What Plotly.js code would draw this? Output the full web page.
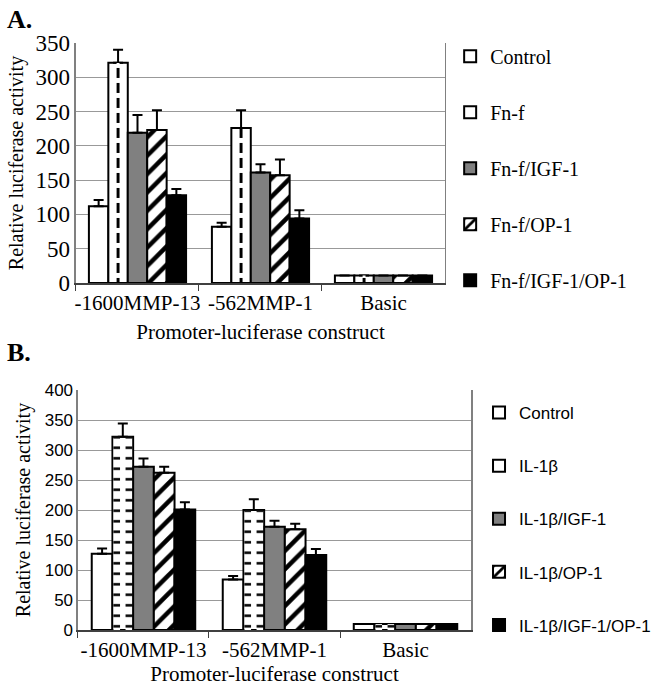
<!DOCTYPE html>
<html>
<head>
<meta charset="utf-8">
<script src="https://cdn.plot.ly/plotly-3.0.1.min.js"></script>
<style>
  body { margin: 0; background: #fff; }
  #plot { width: 662px; height: 693px; }
</style>
</head>
<body>
<div id="plot"></div>
<script>
// Promoter-luciferase constructs, two stimulus panels (A: Fn-f, B: IL-1beta)

let constructs = ["-1600MMP-13", "-562MMP-1", "Basic"];

// Panel A values and upper error bars
let namesA = ["Control", "Fn-f", "Fn-f/IGF-1", "Fn-f/OP-1", "Fn-f/IGF-1/OP-1"];
let controlA = [112, 82, 11];
let fnf = [321, 226, 11];
let fnfIgf = [219, 161, 11];
let fnfOp = [223, 157, 11];
let fnfIgfOp = [128, 94, 11];
let errControlA = [9, 6, 0];
let errFnf = [19, 26, 0];
let errFnfIgf = [26, 12, 0];
let errFnfOp = [29, 23, 0];
let errFnfIgfOp = [9, 12, 0];

// Panel B values and upper error bars
let namesB = ["Control", "IL-1β", "IL-1β/IGF-1", "IL-1β/OP-1", "IL-1β/IGF-1/OP-1"];
let controlB = [127, 84, 10];
let il1b = [322, 200, 10];
let il1bIgf = [272, 172, 10];
let il1bOp = [262, 168, 10];
let il1bIgfOp = [201, 125, 10];
let errControlB = [9, 6, 0];
let errIl1b = [22, 18, 0];
let errIl1bIgf = [14, 10, 0];
let errIl1bOp = [10, 9, 0];
let errIl1bIgfOp = [12, 10, 0];

let hatch = {shape: "/", size: 13, solidity: 0.35, fgcolor: "black", bgcolor: "white"};
let fills = ["white", "white", "#808080", "white", "black"];

function makeTrace(name, vals, errs, i, panel) {
  let marker = {color: fills[i], line: {color: "black", width: 2}};
  if (i == 3) marker.pattern = hatch;
  return {
    x: constructs,
    y: vals,
    name: name,
    type: "bar",
    marker: marker,
    error_y: {type: "data", symmetric: false, array: errs, arrayminus: errs.map(() => 0),
              color: "black", thickness: 2, width: 5},
    xaxis: panel == "A" ? "x" : "x2",
    yaxis: panel == "A" ? "y" : "y2",
    legend: panel == "A" ? "legend" : "legend2",
    legendgroup: panel + name,
    hoverinfo: "y"
  };
}

// thin patterned strips laid inside the 2nd bar of each group (dashes / side ticks)
function strip(vals, panel, offset, width, pattern) {
  return {
    x: constructs, y: vals, type: "bar",
    offset: offset, width: width,
    marker: {color: pattern.bgcolor, line: {width: 0}, pattern: pattern},
    xaxis: panel == "A" ? "x" : "x2",
    yaxis: panel == "A" ? "y" : "y2",
    showlegend: false, hoverinfo: "skip"
  };
}

let valsA = [controlA, fnf, fnfIgf, fnfOp, fnfIgfOp];
let errsA = [errControlA, errFnf, errFnfIgf, errFnfOp, errFnfIgfOp];
let valsB = [controlB, il1b, il1bIgf, il1bOp, il1bIgfOp];
let errsB = [errControlB, errIl1b, errIl1bIgf, errIl1bOp, errIl1bIgfOp];

let traces = [];
for (let i = 0; i < namesA.length; i++) {
  traces.push(makeTrace(namesA[i], valsA[i], errsA[i], i, "A"));
}
for (let i = 0; i < namesB.length; i++) {
  traces.push(makeTrace(namesB[i], valsB[i], errsB[i], i, "B"));
}

// group of 5 bars, bargap 0.21 -> each bar 0.158 wide, 2nd bar spans -0.237 .. -0.079
let dashes = {shape: "-", size: 15, solidity: 0.33, fgcolor: "white", bgcolor: "black"};
let ticksSide = {shape: "-", size: 10.5, solidity: 0.24, fgcolor: "black", bgcolor: "white"};
traces.push(strip(fnf, "A", -0.17, 0.024, dashes));
traces.push(strip(il1b, "B", -0.229, 0.05, ticksSide));
traces.push(strip(il1b, "B", -0.137, 0.05, ticksSide));

let serif = "Liberation Serif, Times New Roman, serif";
let sans = "Liberation Sans, Arial, sans-serif";

let xCommon = {
  type: "category",
  showline: true, linecolor: "#404040", linewidth: 1.5,
  ticks: "outside", tickson: "boundaries", ticklen: 6, tickcolor: "#404040",
  tickangle: 0,
  tickfont: {family: serif, size: 21, color: "black"},
  showgrid: false
};
let yCommon = {
  showline: true, linecolor: "#808080", linewidth: 1.5, mirror: true,
  showgrid: true, gridcolor: "#999999", gridwidth: 1,
  ticks: "", zeroline: false
};

let layout = {
  width: 662, height: 693,
  margin: {l: 0, r: 0, t: 0, b: 0},
  paper_bgcolor: "white", plot_bgcolor: "white",
  barmode: "group", bargap: 0.21, bargroupgap: 0,
  showlegend: true,
  xaxis: Object.assign({}, xCommon, {
    domain: [0.1148, 0.6722], anchor: "y",
    title: {text: "Promoter-luciferase construct", font: {family: serif, size: 21, color: "black"}, standoff: 10}
  }),
  yaxis: Object.assign({}, yCommon, {
    domain: [0.5916, 0.938], anchor: "x", range: [0, 350], dtick: 50,
    tickfont: {family: serif, size: 23, color: "black"},
    title: {text: "Relative luciferase activity", font: {family: serif, size: 20, color: "black"}, standoff: 6}
  }),
  xaxis2: Object.assign({}, xCommon, {
    domain: [0.1178, 0.7115], anchor: "y2",
    title: {text: "Promoter-luciferase construct", font: {family: serif, size: 21, color: "black"}, standoff: 0}
  }),
  yaxis2: Object.assign({}, yCommon, {
    domain: [0.0909, 0.4372], anchor: "x2", range: [0, 400], dtick: 50,
    tickfont: {family: sans, size: 17, color: "black"},
    title: {text: "Relative luciferase activity", font: {family: serif, size: 20, color: "black"}, standoff: 8}
  }),
  legend: {
    x: 0.68, y: 0.947, xanchor: "left", yanchor: "top",
    font: {family: serif, size: 20, color: "black"},
    tracegroupgap: 27, bgcolor: "rgba(0,0,0,0)"
  },
  legend2: {
    x: 0.7236, y: 0.43, xanchor: "left", yanchor: "top",
    font: {family: sans, size: 17, color: "black"},
    tracegroupgap: 28, bgcolor: "rgba(0,0,0,0)"
  },
  annotations: [
    {text: "<b>A.</b>", xref: "paper", yref: "paper", x: 0.008, y: 0.995, xanchor: "left", yanchor: "top",
     showarrow: false, font: {family: serif, size: 26, color: "black"}},
    {text: "<b>B.</b>", xref: "paper", yref: "paper", x: 0.008, y: 0.515, xanchor: "left", yanchor: "top",
     showarrow: false, font: {family: serif, size: 26, color: "black"}}
  ]
};

Plotly.newPlot("plot", traces, layout, {displayModeBar: false, staticPlot: true});
</script>
</body>
</html>
